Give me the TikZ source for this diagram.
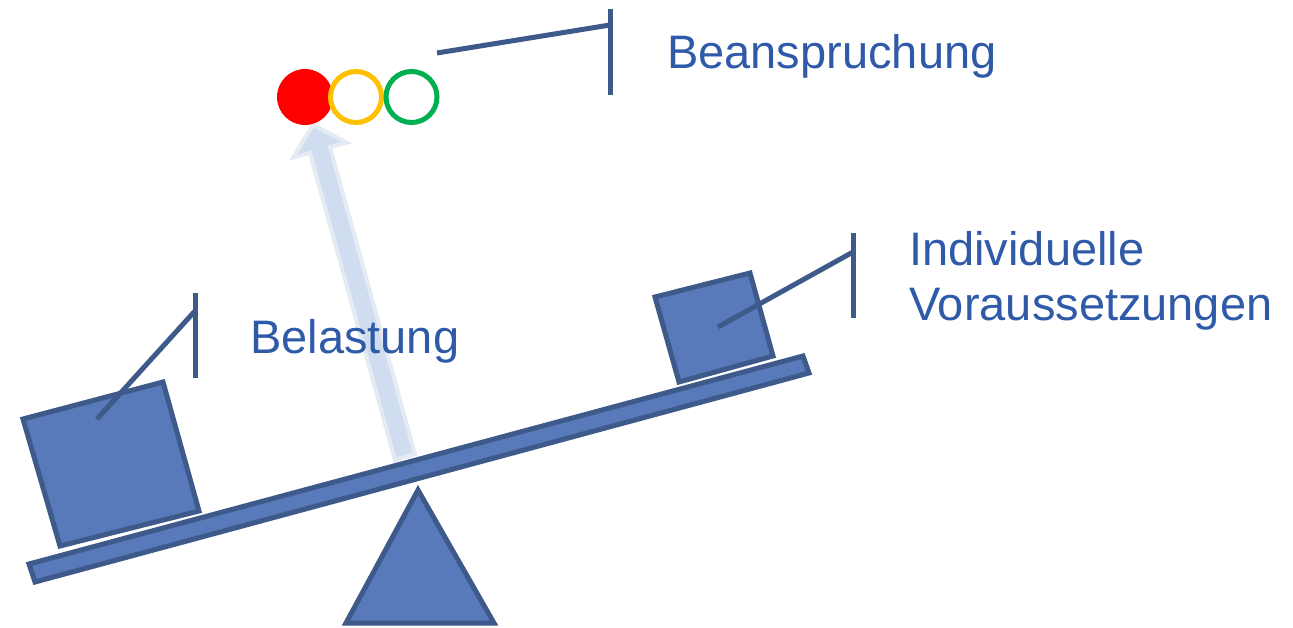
\documentclass[tikz,border=0pt]{standalone}
\usepackage{fontspec}
\setmainfont{Liberation Sans}
\definecolor{partfill}{HTML}{5879BA}
\definecolor{partline}{HTML}{3E5A8A}
\definecolor{textblue}{HTML}{2F5AA8}
\definecolor{arrowfill}{HTML}{D0DDF1}
\definecolor{arrowline}{HTML}{E5EBF3}
\definecolor{ampelgelb}{HTML}{FFC000}
\definecolor{ampelgruen}{HTML}{00B050}
\begin{document}
\begin{tikzpicture}[x=1pt,y=-1pt,
    seesaw/.style={fill=partfill,draw=partline,line width=5pt},
    callout/.style={draw=partline,line width=5pt},
    lbltext/.style={text=textblue,inner sep=0pt,anchor=base west,font=\fontsize{47}{55}\selectfont}]
    \useasboundingbox (0,0) rectangle (1293,627);

    % Pfeil Belastung
    \draw[fill=arrowfill,draw=arrowline,line width=4pt,line join=miter]
        (395,460) -- (310,153) -- (293,157.5) -- (313,125) -- (347,142.5) -- (330,147) -- (415,454) -- cycle;

    % Wippe
    \draw[seesaw] (418,490) -- (494,623) -- (346,623) -- cycle;
    \draw[seesaw] (23,419) -- (163,382) -- (199,511) -- (60,546) -- cycle;
    \draw[seesaw] (655,297) -- (750,273) -- (773,356) -- (679,382) -- cycle;
    \draw[seesaw] (29,564) -- (803,356) -- (809,373) -- (35,582) -- cycle;

    % Ampel
    \fill[red] (305,97) circle (28);
    \draw[ampelgelb,line width=5pt] (356,97) circle (25.5);
    \draw[ampelgruen,line width=5pt] (411.5,97) circle (25.5);

    % Beschriftungen
    \coordinate (lastpunkt) at (97,419);
    \coordinate (lastbar) at (195,311);
    \draw[callout] (lastpunkt) -- (lastbar);
    \draw[callout] (195,293) -- (195,378);
    \node[lbltext] (belastung) at (250,353) {Belastung};

    \coordinate (ampelpunkt) at (437,53);
    \coordinate (ampelbar) at (610,25);
    \draw[callout] (ampelpunkt) -- (ampelbar);
    \draw[callout] (610,9) -- (610,95);
    \node[lbltext] (beanspruchung) at (667,68) {Beanspruchung};

    \coordinate (voraussetzpunkt) at (718,327);
    \coordinate (voraussetzbar) at (853,252);
    \draw[callout] (voraussetzpunkt) -- (voraussetzbar);
    \draw[callout] (853,233) -- (853,318);
    \node[lbltext] (individuelle) at (909,265) {Individuelle};
    \node[lbltext] (voraussetzungen) at (909,320) {Voraussetzungen};
\end{tikzpicture}
\end{document}
